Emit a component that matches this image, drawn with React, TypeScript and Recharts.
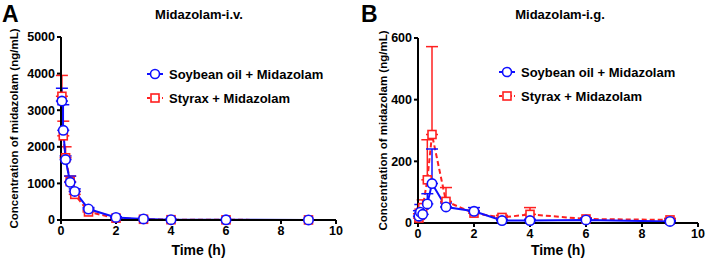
import React from 'react';
import { LineChart, Line, XAxis, YAxis, ErrorBar } from 'recharts';

const times = [0.033, 0.083, 0.167, 0.333, 0.5, 1, 2, 3, 4, 6, 9];

// Panel A (i.v.)
const soyIV = [3250, 2450, 1650, 1030, 780, 300, 70, 30, 10, 5, 3];
const soyIVUpper = [3600, 3150, 1750, 1200, 850, 340, 90, 40, 15, 8, 5];
const styIV = [3380, 2300, 1700, 1050, 700, 220, 50, 20, 8, 4, 2];
const styIVUpper = [3950, 2700, 2000, 1200, 780, 260, 70, 30, 12, 6, 4];

// Panel B (i.g.)
const soyIG = [22, 35, 28, 62, 128, 52, 38, 8, 8, 10, 5];
const soyIGUpper = [40, 60, 45, 95, 240, 65, 50, 12, 12, 14, 8];
const styIG = [16, 25, 50, 140, 287, 70, 32, 18, 28, 13, 10];
const styIGUpper = [30, 45, 75, 270, 572, 115, 40, 25, 50, 17, 15];

const xTicks = [0, 2, 4, 6, 8, 10];
const yTicksA = [0, 1000, 2000, 3000, 4000, 5000];
const yTicksB = [0, 200, 400, 600];

const seriesNames = ['Soybean oil + Midazolam', 'Styrax + Midazolam'];

const BLUE = '#1010ff';
const RED = '#ff2020';
const FONT = '"Liberation Sans", Arial, sans-serif';

function build(soy: number[], soyUp: number[], sty: number[], styUp: number[]) {
  return times.map((t, i) => ({
    t,
    soy: soy[i],
    soyErr: [0, Math.max(0, soyUp[i] - soy[i])],
    sty: sty[i],
    styErr: [0, Math.max(0, styUp[i] - sty[i])],
  }));
}

const dataA = build(soyIV, soyIVUpper, styIV, styIVUpper);
const dataB = build(soyIG, soyIGUpper, styIG, styIGUpper);

const Square = (props: any) => {
  const { cx, cy } = props;
  if (cx == null || cy == null) return null;
  return <rect x={cx - 4} y={cy - 4} width={8} height={8} fill="#fff" stroke={RED} strokeWidth={1.6} />;
};
const Circle = (props: any) => {
  const { cx, cy } = props;
  if (cx == null || cy == null) return null;
  return <circle cx={cx} cy={cy} r={4.7} fill="#fff" stroke={BLUE} strokeWidth={1.6} />;
};

const LegendBox = (props: { left: number; top: number }) => (
  <div
    style={{
      position: 'absolute',
      left: props.left,
      top: props.top,
      fontFamily: FONT,
      fontWeight: 'bold',
      fontSize: 13,
      color: '#000',
      whiteSpace: 'nowrap',
    }}
  >
    <div style={{ display: 'flex', alignItems: 'center', height: 24 }}>
      <svg width={16} height={14}>
        <line x1={0} y1={7} x2={16} y2={7} stroke={BLUE} strokeWidth={2} />
        <circle cx={8} cy={7} r={4.5} fill="#fff" stroke={BLUE} strokeWidth={1.6} />
      </svg>
      <span style={{ marginLeft: 6 }}>{seriesNames[0]}</span>
    </div>
    <div style={{ display: 'flex', alignItems: 'center', height: 24 }}>
      <svg width={16} height={14}>
        <line x1={0} y1={7} x2={16} y2={7} stroke={RED} strokeWidth={2} strokeDasharray="3 2" />
        <rect x={4} y={3} width={8} height={8} fill="#fff" stroke={RED} strokeWidth={1.6} />
      </svg>
      <span style={{ marginLeft: 6 }}>{seriesNames[1]}</span>
    </div>
  </div>
);

const tickStyle = { fill: '#000', fontSize: 12.5, fontWeight: 'bold', fontFamily: FONT };
const labelStyle = { fill: '#000', fontSize: 12, fontWeight: 'bold', fontFamily: FONT };

function Panel(props: {
  data: any[];
  yTicks: number[];
  yMax: number;
  margin: any;
  yWidth: number;
  xHeight: number;
  yLabelOffset: number;
}) {
  const { data, yTicks, yMax, margin, yWidth, xHeight, yLabelOffset } = props;
  return (
    <LineChart width={353} height={259} data={data} margin={margin}>
      <XAxis
        dataKey="t"
        type="number"
        domain={[0, 10]}
        ticks={xTicks}
        height={xHeight}
        stroke="#000"
        strokeWidth={2}
        tickSize={4}
        tickLine={{ stroke: '#000', strokeWidth: 2 }}
        tick={tickStyle}
        label={{ value: 'Time (h)', position: 'insideBottom', offset: 4, style: { ...labelStyle, fontSize: 14 } }}
      />
      <YAxis
        type="number"
        domain={[0, yMax]}
        ticks={yTicks}
        width={yWidth}
        stroke="#000"
        strokeWidth={2}
        tickSize={4}
        tickLine={{ stroke: '#000', strokeWidth: 2 }}
        tick={tickStyle}
        label={{
          value: 'Concentration of midazolam (ng/mL)',
          angle: -90,
          position: 'insideLeft',
          offset: yLabelOffset,
          style: { ...labelStyle, fontSize: 11.5, textAnchor: 'middle' },
        }}
      />
      <Line
        type="linear"
        dataKey="sty"
        stroke={RED}
        strokeWidth={2}
        strokeDasharray="5 3"
        dot={<Square />}
        isAnimationActive={false}
      >
        <ErrorBar dataKey="styErr" direction="y" width={6} stroke={RED} strokeWidth={1.5} />
      </Line>
      <Line
        type="linear"
        dataKey="soy"
        stroke={BLUE}
        strokeWidth={2}
        dot={<Circle />}
        isAnimationActive={false}
      >
        <ErrorBar dataKey="soyErr" direction="y" width={6} stroke={BLUE} strokeWidth={1.5} />
      </Line>
    </LineChart>
  );
}

export default function App() {
  return (
    <div style={{ position: 'absolute', left: 0, top: 0, width: 706, height: 259, background: '#fff', fontFamily: FONT }}>
      <div style={{ position: 'absolute', left: 0, top: 0 }}>
        <Panel
          data={dataA}
          yTicks={yTicksA}
          yMax={5000}
          margin={{ top: 37, right: 17, left: 0, bottom: 0 }}
          yWidth={61}
          xHeight={39}
          yLabelOffset={14}
        />
      </div>
      <div style={{ position: 'absolute', left: 353, top: 0 }}>
        <Panel
          data={dataB}
          yTicks={yTicksB}
          yMax={600}
          margin={{ top: 38, right: 8, left: 0, bottom: 0 }}
          yWidth={65}
          xHeight={36}
          yLabelOffset={30}
        />
      </div>
      <LegendBox left={147} top={62} />
      <LegendBox left={499} top={60} />
      <svg width={706} height={259} style={{ position: 'absolute', left: 0, top: 0, pointerEvents: 'none' }}>
        <text x={2} y={22} fontSize={23} fontWeight="bold" fontFamily={FONT} fill="#000">A</text>
        <text x={199} y={19} fontSize={13} fontWeight="bold" fontFamily={FONT} fill="#000" textAnchor="middle">Midazolam-i.v.</text>
        <text x={361} y={22} fontSize={23} fontWeight="bold" fontFamily={FONT} fill="#000">B</text>
        <text x={560} y={19} fontSize={13} fontWeight="bold" fontFamily={FONT} fill="#000" textAnchor="middle">Midazolam-i.g.</text>
      </svg>
    </div>
  );
}
